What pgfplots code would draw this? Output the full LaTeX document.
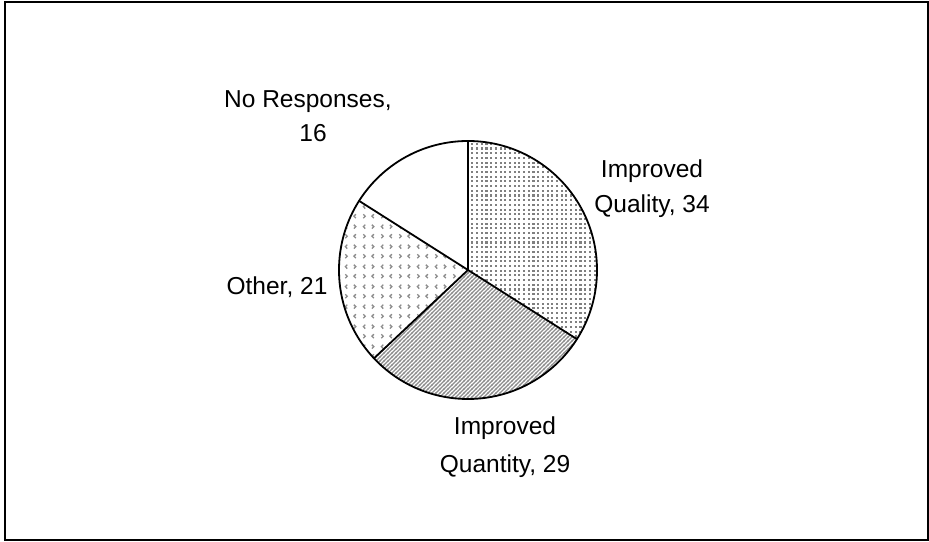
\documentclass[border=0pt]{standalone}
\usepackage{pgfplots}
\pgfplotsset{compat=1.18}
\usepackage{pgfplotstable}
\usepackage{fontspec}
\setmainfont{Liberation Sans}
\usetikzlibrary{patterns}

% grey dot grid
\pgfdeclarepatternformonly{greydots}{\pgfqpoint{-1pt}{-1pt}}{\pgfqpoint{5.7pt}{5.7pt}}{\pgfqpoint{4.7pt}{4.7pt}}{%
  \pgfpathrectangle{\pgfqpoint{1.3pt}{1.3pt}}{\pgfqpoint{2.1pt}{2.1pt}}\pgfusepath{fill}}
% fine upward diagonal lines
\pgfdeclarepatternformonly{finediag}{\pgfqpoint{-1pt}{-1pt}}{\pgfqpoint{5pt}{5pt}}{\pgfqpoint{4pt}{4pt}}{%
  \pgfsetlinewidth{1.2pt}%
  \pgfpathmoveto{\pgfqpoint{-0.6pt}{-0.6pt}}\pgfpathlineto{\pgfqpoint{4.6pt}{4.6pt}}\pgfusepath{stroke}}
% small chevrons
\pgfdeclarepatternformonly{chevrons}{\pgfqpoint{0pt}{0pt}}{\pgfqpoint{18pt}{20pt}}{\pgfqpoint{18pt}{20pt}}{%
  \pgfsetlinewidth{1.4pt}%
  \pgfpathmoveto{\pgfqpoint{5.5pt}{17pt}}\pgfpathlineto{\pgfqpoint{3.5pt}{15pt}}\pgfpathlineto{\pgfqpoint{5.5pt}{13pt}}%
  \pgfpathmoveto{\pgfqpoint{12.5pt}{17pt}}\pgfpathlineto{\pgfqpoint{14.5pt}{15pt}}\pgfpathlineto{\pgfqpoint{12.5pt}{13pt}}%
  \pgfpathmoveto{\pgfqpoint{3.5pt}{7pt}}\pgfpathlineto{\pgfqpoint{5.5pt}{5pt}}\pgfpathlineto{\pgfqpoint{3.5pt}{3pt}}%
  \pgfpathmoveto{\pgfqpoint{14.5pt}{7pt}}\pgfpathlineto{\pgfqpoint{12.5pt}{5pt}}\pgfpathlineto{\pgfqpoint{14.5pt}{3pt}}%
  \pgfusepath{stroke}}

\pgfplotstableread{
label value
Quality 34
Quantity 29
Other 21
NoResponses 16
}\piedata

% slice angles, clockwise from 12 o'clock
\pgfplotstablegetelem{0}{value}\of\piedata \let\vA\pgfplotsretval
\pgfplotstablegetelem{1}{value}\of\piedata \let\vB\pgfplotsretval
\pgfplotstablegetelem{2}{value}\of\piedata \let\vC\pgfplotsretval
\pgfplotstablegetelem{3}{value}\of\piedata \let\vD\pgfplotsretval
\pgfmathsetmacro{\total}{\vA+\vB+\vC+\vD}
\pgfmathsetmacro{\aA}{90}
\pgfmathsetmacro{\aB}{\aA-360*\vA/\total}
\pgfmathsetmacro{\aC}{\aB-360*\vB/\total}
\pgfmathsetmacro{\aD}{\aC-360*\vC/\total}
\pgfmathsetmacro{\aE}{\aD-360*\vD/\total}

\def\R{129pt}
\newcommand{\slice}[3]{%
  \path[fill=white] (C) -- ++(#1:\R) arc[start angle=#1, end angle=#2, radius=\R] -- cycle;
  \path[#3] (C) -- ++(#1:\R) arc[start angle=#1, end angle=#2, radius=\R] -- cycle;}

\tikzset{lbl/.style={font=\fontsize{24.5}{29}\selectfont, inner sep=0pt}}

\begin{document}
\begin{tikzpicture}
\begin{axis}[x=1pt, y=1pt, xmin=0, xmax=929, ymin=0, ymax=541,
  hide axis, clip=false]
\path (axis cs:0,0) rectangle (axis cs:929,541);
\draw[line width=2pt] (axis cs:5,1) rectangle (axis cs:928,539);
\coordinate (C) at (axis cs:468,271);
\slice{\aA}{\aB}{pattern=greydots, pattern color=black!50}
\slice{\aB}{\aC}{pattern=finediag, pattern color=black!45}
\slice{\aC}{\aD}{pattern=chevrons, pattern color=black!45}
\slice{\aD}{\aE}{fill=white}
\draw[line width=1.8pt, line join=round] (C) circle[radius=\R];
\draw[line width=1.8pt] (C) -- ++(\aA:\R);
\draw[line width=1.8pt] (C) -- ++(\aB:\R);
\draw[line width=1.8pt] (C) -- ++(\aC:\R);
\draw[line width=1.8pt] (C) -- ++(\aD:\R);
% data labels
\node[lbl, anchor=base] at (axis cs:652,363) {Improved};
\node[lbl, anchor=base] at (axis cs:652,328) {Quality, \vA};
\node[lbl, anchor=base] at (axis cs:505,106) {Improved};
\node[lbl, anchor=base] at (axis cs:505,69) {Quantity, \vB};
\node[lbl, anchor=base] at (axis cs:277,246) {Other, \vC};
\node[lbl, anchor=base west] at (axis cs:224,433) {No Responses,};
\node[lbl, anchor=base] at (axis cs:313,399) {\vD};
\end{axis}
\end{tikzpicture}
\end{document}
